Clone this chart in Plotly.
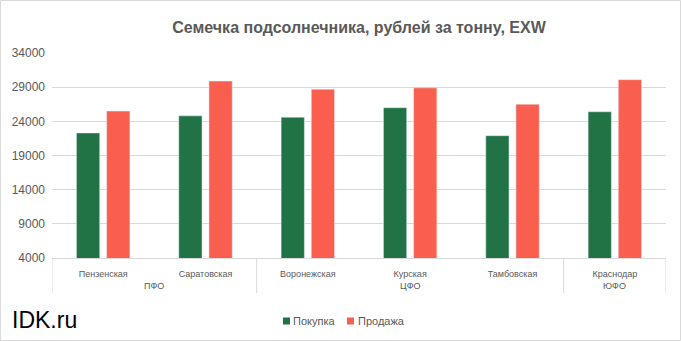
import plotly.graph_objects as go

districts = ["ПФО", "ПФО", "ЦФО", "ЦФО", "ЦФО", "ЮФО"]
regions = ["Пензенская", "Саратовская", "Воронежская", "Курская", "Тамбовская", "Краснодар"]
buy = [22300, 24800, 24600, 26000, 21900, 25400]
sell = [25500, 29900, 28700, 28900, 26500, 30100]
ytick_vals = [4000, 9000, 14000, 19000, 24000, 29000, 34000]
series_names = ["Покупка", "Продажа"]
series_colors = ["#217346", "#FA5E4E"]

W, H = 681, 341
ml, mr, mt, mb = 52, 15, 53, 83
pw, ph = W - ml - mr, H - mt - mb

font = "Liberation Sans, Arial, sans-serif"
grey = "#595959"
line_grey = "#d9d9d9"


def px_x(x):
    return (x - ml) / pw


def px_y(y):
    return (H - mb - y) / ph


fig = go.Figure()
for name, vals, col in zip(series_names, [buy, sell], series_colors):
    fig.add_trace(go.Bar(name=name, x=regions, y=vals, marker_color=col, showlegend=False))

shapes = []
annotations = []

# group (district) labels and dividers
groups = []
for i, d in enumerate(districts):
    if groups and groups[-1][0] == d:
        groups[-1][2] = i
    else:
        groups.append([d, i, i])
bounds = sorted({g[1] - 0.5 for g in groups} | {g[2] + 0.5 for g in groups})
for b in bounds:
    shapes.append(dict(type="line", xref="x", yref="paper", x0=b, x1=b,
                       y0=0, y1=px_y(293), line=dict(color=line_grey, width=1)))
for name, i0, i1 in groups:
    annotations.append(dict(text=name, x=(i0 + i1) / 2, xref="x", xanchor="center",
                            y=px_y(286), yref="paper", yanchor="middle", showarrow=False,
                            font=dict(size=9, color=grey, family=font)))

# custom legend (square + text, tight like Excel)
legend_items = [(283, 291), (347, 356)]
for (sx, tx), name, col in zip(legend_items, series_names, series_colors):
    shapes.append(dict(type="rect", xref="paper", yref="paper",
                       x0=px_x(sx), x1=px_x(sx + 7), y0=px_y(324.5), y1=px_y(317.5),
                       line=dict(width=0), fillcolor=col))
    annotations.append(dict(text=name, x=px_x(tx), xref="paper", xanchor="left",
                            y=px_y(321), yref="paper", yanchor="middle", showarrow=False,
                            font=dict(size=11, color=grey, family=font)))

annotations.append(dict(text="IDK.ru", x=px_x(10), xref="paper", xanchor="left",
                        y=px_y(320), yref="paper", yanchor="middle",
                        showarrow=False, font=dict(size=23, color="black", family=font)))

shapes.append(dict(type="rect", xref="paper", yref="paper",
                   x0=px_x(0.5), x1=px_x(W - 0.5), y0=px_y(H - 0.5), y1=px_y(0.5),
                   line=dict(color=line_grey, width=1), fillcolor="rgba(0,0,0,0)"))

fig.update_layout(
    width=W, height=H,
    margin=dict(l=ml, r=mr, t=mt, b=mb),
    paper_bgcolor="white", plot_bgcolor="white",
    barmode="group", bargap=0.41, bargroupgap=0.23,
    font=dict(family=font, color=grey),
    title=dict(text="<b>Семечка подсолнечника, рублей за тонну, EXW</b>",
               x=0.5, xref="paper", xanchor="center", y=1 - 27 / H, yanchor="middle",
               font=dict(size=16, color=grey, family=font)),
    showlegend=False,
    yaxis=dict(range=[4000, 34000], tickvals=ytick_vals, ticktext=[str(v) for v in ytick_vals],
               showgrid=True, gridcolor=line_grey, gridwidth=1, zeroline=False,
               showline=False, tickfont=dict(size=12, color=grey), ticks="",
               ticklabelstandoff=6),
    xaxis=dict(type="category", range=[-0.5, len(regions) - 0.5], showline=True,
               linecolor=line_grey, linewidth=1, showgrid=False,
               tickfont=dict(size=9, color=grey), ticks="", ticklabelstandoff=7),
    annotations=annotations,
    shapes=shapes,
)

fig.write_html("out.html")
